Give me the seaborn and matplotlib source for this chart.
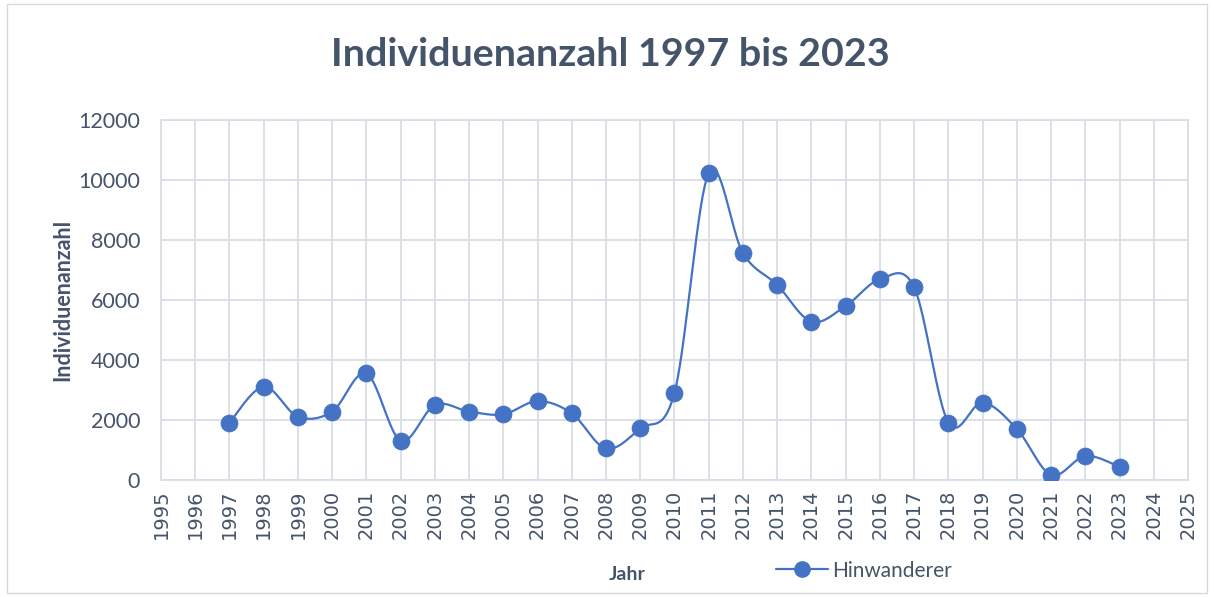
import numpy as np
import pandas as pd
import seaborn as sns
import matplotlib.pyplot as plt
from matplotlib.lines import Line2D
from matplotlib.patches import Rectangle

# Data
years = list(range(1997, 2024))
individuals = [1910, 3110, 2110, 2280, 3550, 1310, 2500, 2280, 2190, 2630,
               2220, 1050, 1720, 2910, 10240, 7560, 6500, 5280, 5800, 6690,
               6420, 1910, 2580, 1700, 170, 800, 440]
series_name = 'Hinwanderer'

df = pd.DataFrame({'Jahr': years, 'Individuenanzahl': individuals})

# Smooth line like Excel (Catmull-Rom style Bezier through the points)
def smooth_curve(x, y, n=40):
    x = np.asarray(x, float)
    y = np.asarray(y, float)
    px = np.concatenate([[x[0]], x, [x[-1]]])
    py = np.concatenate([[y[0]], y, [y[-1]]])
    t = np.linspace(0, 1, n)[:, None]
    xs, ys = [], []
    for i in range(1, len(px) - 2):
        p0 = np.array([px[i], py[i]])
        p3 = np.array([px[i + 1], py[i + 1]])
        c1 = p0 + (np.array([px[i + 1], py[i + 1]]) - np.array([px[i - 1], py[i - 1]])) / 6
        c2 = p3 - (np.array([px[i + 2], py[i + 2]]) - np.array([px[i], py[i]])) / 6
        pts = ((1 - t) ** 3) * p0 + 3 * ((1 - t) ** 2) * t * c1 + 3 * (1 - t) * t ** 2 * c2 + t ** 3 * p3
        xs.append(pts[:, 0])
        ys.append(pts[:, 1])
    return np.concatenate(xs), np.concatenate(ys)

sx, sy = smooth_curve(years, individuals)
curve = pd.DataFrame({'x': sx, 'y': sy})

sns.set_style('white')
plt.rcParams['font.family'] = ['Lato', 'DejaVu Sans']

blue = '#4472C4'
text_col = '#44546A'
grid_col = '#D9DEE6'

fig = plt.figure(figsize=(12.14, 5.97), dpi=100)
ax = fig.add_axes([0.1326, 0.196, 0.8460, 0.603])

sns.lineplot(data=curve, x='x', y='y', sort=False, estimator=None,
             color=blue, linewidth=1.6, ax=ax, zorder=3)
sns.scatterplot(data=df, x='Jahr', y='Individuenanzahl', color=blue,
                s=150, edgecolor=blue, linewidth=0.5, ax=ax, zorder=4)

ax.set_xlim(1995, 2025)
ax.set_ylim(0, 12000)
ax.set_xticks(range(1995, 2026))
ax.set_xticklabels([str(y) for y in range(1995, 2026)], rotation=90,
                   fontsize=14, color=text_col, family='DejaVu Sans')
ax.set_yticks(range(0, 12001, 2000))
ax.set_yticklabels([str(v) for v in range(0, 12001, 2000)],
                   fontsize=15.5, color=text_col)
ax.tick_params(axis='x', length=0, pad=7)
ax.tick_params(axis='y', length=0, pad=15)

ax.grid(True, color=grid_col, linewidth=1.3)
ax.set_axisbelow(True)
for side in ax.spines.values():
    side.set_color(grid_col)
    side.set_linewidth(1.3)

ax.set_xlabel('')
ax.set_ylabel('Individuenanzahl', fontsize=15.5, fontweight='bold', color=text_col)
ax.yaxis.set_label_coords(-0.085, 0.5)

fig.text(0.517, 0.037, 'Jahr', fontsize=14, fontweight='bold', color=text_col,
         ha='center', va='center')
fig.text(0.503, 0.908, 'Individuenanzahl 1997 bis 2023', fontsize=28.4,
         fontweight='bold', color=text_col, ha='center', va='center')

handle = Line2D([], [], color=blue, marker='o', markersize=11, linewidth=1.6)
fig.legend([handle], [series_name], loc='center left',
           bbox_to_anchor=(0.624, 0.044), frameon=False, fontsize=15,
           labelcolor=text_col, handlelength=2.5, handletextpad=0.2)

fig.patches.append(Rectangle((0.006, 0.006), 0.988, 0.988, transform=fig.transFigure,
                             fill=False, edgecolor='#D9D9D9', linewidth=1))

fig.savefig('out.png', dpi=100)
